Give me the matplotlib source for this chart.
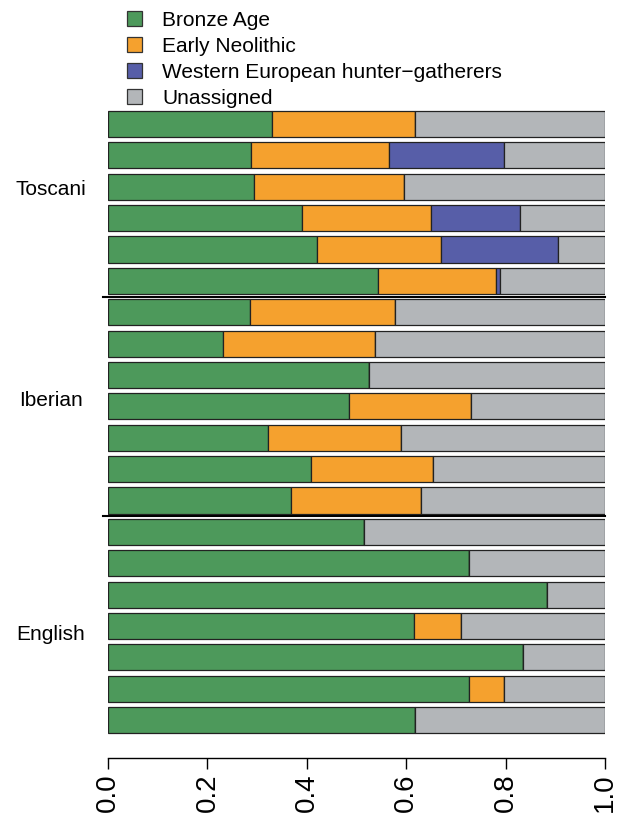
import numpy as np
import matplotlib.pyplot as plt
from matplotlib.patches import Patch

plt.rcParams['font.family'] = ['Liberation Sans', 'DejaVu Sans']

# ancestry proportions per sample, top to bottom
bronze  = [0.330, 0.287, 0.293, 0.390, 0.421, 0.543,
           0.285, 0.232, 0.526, 0.485, 0.321, 0.409, 0.369,
           0.515, 0.727, 0.883, 0.616, 0.835, 0.727, 0.618]
neolith = [0.288, 0.278, 0.303, 0.260, 0.249, 0.237,
           0.293, 0.305, 0.000, 0.245, 0.268, 0.245, 0.261,
           0.000, 0.000, 0.000, 0.095, 0.000, 0.070, 0.000]
whg     = [0.000, 0.231, 0.000, 0.179, 0.235, 0.008,
           0.000, 0.000, 0.000, 0.000, 0.000, 0.000, 0.000,
           0.000, 0.000, 0.000, 0.000, 0.000, 0.000, 0.000]
groups = ['Toscani', 'Iberian', 'English']
group_sizes = [6, 7, 7]
label_pos = [2.10, 8.80, 16.26]   # in bar-index units

names = ['Bronze Age', 'Early Neolithic', 'Western European hunter\u2212gatherers', 'Unassigned']
colors = ['#4d995b', '#f5a12e', '#575ea8', '#b3b6b9']

bronze = np.array(bronze)
neolith = np.array(neolith)
whg = np.array(whg)
unassigned = 1 - bronze - neolith - whg

fig = plt.figure(figsize=(6.28, 8.15), dpi=100)
W, H = 628, 815
ax = fig.add_axes([108 / W, 1 - 758 / H, 497 / W, (758 - 107) / H])

y = np.arange(len(bronze)) * 1.2
left = np.zeros(len(bronze))
for vals, c in zip([bronze, neolith, whg, unassigned], colors):
    ax.barh(y, vals, left=left, height=1.0, color=c, edgecolor='#222222', linewidth=0.9)
    left += vals

ax.set_xlim(0, 1)
ax.set_ylim(24.25, -0.65)

# group separators
cum = np.cumsum(group_sizes)[:-1]
for k in cum:
    yy = (k - 1) * 1.2 + 0.6
    ax.plot([-0.01, 1.0], [yy, yy], color='black', lw=1.5, clip_on=False)

for g, p in zip(groups, label_pos):
    ax.text(-0.115, p * 1.2, g, ha='center', va='center', fontsize=15)

for s in ['top', 'right', 'left']:
    ax.spines[s].set_visible(False)
ax.spines['bottom'].set_bounds(0, 1)
ax.spines['bottom'].set_linewidth(1.0)
ax.set_yticks([])
ax.set_xticks(np.arange(0, 1.01, 0.2))
ax.set_xticklabels(['0.0', '0.2', '0.4', '0.6', '0.8', '1.0'], rotation=90, fontsize=20)
ax.tick_params(axis='x', length=8, width=1.0, pad=3)

handles = [Patch(facecolor=c, edgecolor='#333333', linewidth=0.9) for c in colors]
fig.legend(handles, names, loc='upper left', bbox_to_anchor=(127 / W, 1 - 11 / H),
           frameon=False, fontsize=15, handlelength=0.72, handleheight=0.72,
           handletextpad=0.96, labelspacing=0.33, borderpad=0, borderaxespad=0)

fig.savefig('out.png', dpi=100)
